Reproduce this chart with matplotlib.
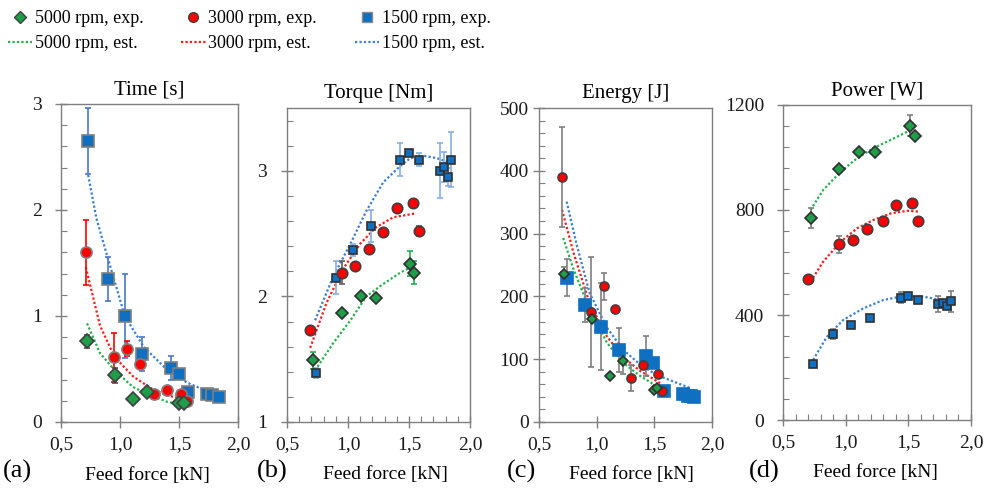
import matplotlib
matplotlib.use("Agg")
import matplotlib.pyplot as plt
from matplotlib.ticker import MultipleLocator

plt.rcParams["font.family"] = "serif"
plt.rcParams["font.serif"] = ["Liberation Serif", "Times New Roman", "DejaVu Serif"]
plt.rcParams["font.size"] = 14

# --- data (feed force in kN) ---
speeds = ["5000", "3000", "1500"]
xtick_vals = [0.5, 1.0, 1.5, 2.0]
xtick_labels = ["0,5", "1,0", "1,5", "2,0"]

# (a) time [s]
time_5000_x = [0.72, 0.96, 1.11, 1.23, 1.50, 1.54]
time_5000_y = [0.76, 0.44, 0.22, 0.28, 0.18, 0.18]
time_5000_err = [0.06, 0.07, 0, 0, 0, 0]
time_3000_x = [0.71, 0.95, 1.06, 1.17, 1.29, 1.40, 1.52, 1.57]
time_3000_y = [1.60, 0.61, 0.69, 0.55, 0.26, 0.30, 0.26, 0.20]
time_3000_err = [0.31, 0.23, 0.07, 0, 0, 0, 0, 0]
time_1500_x = [0.73, 0.90, 1.04, 1.19, 1.43, 1.50, 1.58, 1.74, 1.78, 1.84]
time_1500_y = [2.65, 1.35, 1.00, 0.64, 0.51, 0.45, 0.28, 0.26, 0.25, 0.24]
time_1500_err = [0.31, 0.21, 0.40, 0.16, 0.11, 0, 0, 0, 0, 0]
time_5000_est_x = [0.72, 0.83, 0.96, 1.11, 1.26, 1.40, 1.54]
time_5000_est_y = [0.93, 0.65, 0.48, 0.33, 0.25, 0.19, 0.16]
time_3000_est_x = [0.71, 0.83, 0.95, 1.11, 1.26, 1.40, 1.53]
time_3000_est_y = [1.46, 0.91, 0.62, 0.43, 0.32, 0.25, 0.22]
time_1500_est_x = [0.73, 0.80, 0.89, 1.04, 1.20, 1.40, 1.57, 1.74, 1.84]
time_1500_est_y = [2.33, 1.92, 1.57, 1.00, 0.71, 0.49, 0.37, 0.29, 0.26]

# (b) torque [Nm]
torque_5000_x = [0.71, 0.95, 1.11, 1.23, 1.51, 1.54]
torque_5000_y = [1.49, 1.87, 2.00, 1.99, 2.26, 2.19]
torque_5000_err = [0.07, 0, 0, 0, 0.10, 0.09]
torque_3000_x = [0.69, 0.95, 1.06, 1.17, 1.29, 1.40, 1.53, 1.58]
torque_3000_y = [1.73, 2.19, 2.24, 2.38, 2.51, 2.70, 2.74, 2.52]
torque_3000_err = [0, 0.09, 0, 0, 0, 0.03, 0, 0.04]
torque_1500_x = [0.74, 0.90, 1.04, 1.19, 1.43, 1.50, 1.58, 1.75, 1.79, 1.82, 1.84]
torque_1500_y = [1.39, 2.15, 2.37, 2.56, 3.09, 3.14, 3.09, 3.00, 3.03, 2.95, 3.09]
torque_1500_err = [0.04, 0.13, 0.05, 0.13, 0.13, 0, 0.05, 0.22, 0.12, 0.07, 0.22]
torque_5000_est_x = [0.75, 0.88, 1.02, 1.15, 1.29, 1.43, 1.55]
torque_5000_est_y = [1.44, 1.63, 1.81, 2.00, 2.10, 2.19, 2.25]
torque_3000_est_x = [0.69, 0.82, 0.96, 1.10, 1.23, 1.37, 1.55]
torque_3000_est_y = [1.59, 1.94, 2.22, 2.42, 2.55, 2.63, 2.66]
torque_1500_est_x = [0.73, 0.88, 1.02, 1.15, 1.29, 1.43, 1.51, 1.62, 1.73, 1.82]
torque_1500_est_y = [1.81, 2.16, 2.42, 2.68, 2.91, 3.04, 3.10, 3.12, 3.10, 3.07]

# (c) energy [J]
energy_5000_x = [0.72, 0.96, 1.12, 1.23, 1.50, 1.52]
energy_5000_y = [235, 164, 74, 97, 51, 54]
energy_5000_err = [12, 0, 0, 21, 0, 0]
energy_3000_x = [0.70, 0.95, 1.06, 1.16, 1.30, 1.40, 1.53, 1.57]
energy_3000_y = [390, 175, 216, 180, 70, 91, 77, 49]
energy_3000_err = [80, 88, 21, 0, 20, 0, 0, 0]
energy_1500_x = [0.74, 0.90, 1.04, 1.19, 1.43, 1.49, 1.58, 1.75, 1.79, 1.82, 1.84]
energy_1500_y = [230, 187, 152, 114, 105, 94, 50, 45, 42, 41, 39]
energy_1500_err = [29, 27, 69, 35, 32, 0, 0, 0, 0, 0, 0]
energy_5000_est_x = [0.71, 0.80, 0.94, 1.09, 1.23, 1.38, 1.52]
energy_5000_est_y = [293, 243, 179, 126, 94, 73, 57]
energy_3000_est_x = [0.70, 0.80, 0.94, 1.09, 1.23, 1.38, 1.55]
energy_3000_est_y = [338, 269, 189, 136, 103, 81, 62]
energy_1500_est_x = [0.74, 0.83, 0.94, 1.09, 1.23, 1.38, 1.52, 1.70, 1.81]
energy_1500_est_y = [351, 280, 205, 150, 115, 91, 75, 62, 54]

# (d) power [W]
power_5000_x = [0.72, 0.95, 1.11, 1.23, 1.51, 1.55]
power_5000_y = [768, 955, 1022, 1022, 1121, 1083]
power_5000_err = [38, 0, 0, 0, 41, 0]
power_3000_x = [0.70, 0.95, 1.06, 1.17, 1.30, 1.40, 1.53, 1.58]
power_3000_y = [536, 669, 686, 728, 758, 819, 828, 758]
power_3000_err = [0, 33, 0, 0, 0, 0, 0, 0]
power_1500_x = [0.74, 0.90, 1.04, 1.19, 1.44, 1.50, 1.58, 1.74, 1.78, 1.81, 1.84]
power_1500_y = [213, 328, 362, 390, 466, 472, 457, 441, 444, 434, 453]
power_1500_err = [0, 20, 0, 0, 20, 0, 0, 30, 0, 0, 40]
power_5000_est_x = [0.72, 0.82, 0.96, 1.09, 1.22, 1.36, 1.52]
power_5000_est_y = [800, 876, 946, 997, 1035, 1067, 1105]
power_3000_est_x = [0.72, 0.82, 0.96, 1.09, 1.22, 1.36, 1.49, 1.58]
power_3000_est_y = [527, 603, 679, 730, 762, 787, 797, 794]
power_1500_est_x = [0.74, 0.85, 0.98, 1.14, 1.30, 1.46, 1.62, 1.78]
power_1500_est_y = [229, 317, 381, 425, 457, 472, 470, 455]

# --- styling ---
marker_color = {"5000": "#1f9d48", "3000": "#ff0000", "1500": "#0f6fc0"}
line_color = {"5000": "#22b14c", "3000": "#ff1a1a", "1500": "#3a7fd0"}
marker_shape = {"5000": "D", "3000": "o", "1500": "s"}
GREY = "#7f7f7f"

panels = [
    {
        "title": "Time [s]", "letter": "(a)", "letter_x": 0.003, "label_x": 0.486,
        "rect": [0.0611, 0.1475, 0.1772, 0.6424],
        "ylim": (0, 3), "yticks": [0, 1, 2, 3], "yminor": 0.2, "xminor": False,
        "ypad": 9,
        "data": {"5000": (time_5000_x, time_5000_y, time_5000_err, time_5000_est_x, time_5000_est_y),
                 "3000": (time_3000_x, time_3000_y, time_3000_err, time_3000_est_x, time_3000_est_y),
                 "1500": (time_1500_x, time_1500_y, time_1500_err, time_1500_est_x, time_1500_est_y)},
        "ms": {"5000": 7, "3000": 8, "1500": 8},
        "mec": {"5000": "#404040", "3000": GREY, "1500": GREY},
        "ecolor": {"5000": "#505050", "3000": "#ff0000", "1500": "#4a78c8"},
    },
    {
        "title": "Torque [Nm]", "letter": "(b)", "letter_x": 0.257, "label_x": 0.536,
        "rect": [0.2873, 0.1475, 0.1832, 0.6343],
        "ylim": (1, 3.5), "yticks": [1, 2, 3], "yminor": 0.2, "xminor": True,
        "ypad": 10,
        "data": {"5000": (torque_5000_x, torque_5000_y, torque_5000_err, torque_5000_est_x, torque_5000_est_y),
                 "3000": (torque_3000_x, torque_3000_y, torque_3000_err, torque_3000_est_x, torque_3000_est_y),
                 "1500": (torque_1500_x, torque_1500_y, torque_1500_err, torque_1500_est_x, torque_1500_est_y)},
        "ms": {"5000": 6, "3000": 7.5, "1500": 5.5},
        "mec": {"5000": "#303030", "3000": "#404040", "1500": "#303030"},
        "ecolor": {"5000": "#22b14c", "3000": "#606060", "1500": "#86aee0"},
    },
    {
        "title": "Energy [J]", "letter": "(c)", "letter_x": 0.507, "label_x": 0.532,
        "rect": [0.5395, 0.1475, 0.1732, 0.6343],
        "ylim": (0, 500), "yticks": [0, 100, 200, 300, 400, 500], "yminor": 20, "xminor": False,
        "ypad": 3,
        "data": {"5000": (energy_5000_x, energy_5000_y, energy_5000_err, energy_5000_est_x, energy_5000_est_y),
                 "3000": (energy_3000_x, energy_3000_y, energy_3000_err, energy_3000_est_x, energy_3000_est_y),
                 "1500": (energy_1500_x, energy_1500_y, energy_1500_err, energy_1500_est_x, energy_1500_est_y)},
        "ms": {"5000": 5.5, "3000": 6.5, "1500": 8},
        "mec": {"5000": "#303030", "3000": "#404040", "1500": "#0f6fc0"},
        "ecolor": {"5000": GREY, "3000": GREY, "1500": GREY},
    },
    {
        "title": "Power [W]", "letter": "(d)", "letter_x": 0.750, "label_x": 0.49,
        "rect": [0.7838, 0.1515, 0.1882, 0.6364],
        "ylim": (0, 1200), "yticks": [0, 400, 800, 1200], "yminor": 80, "xminor": True,
        "ypad": 9,
        "data": {"5000": (power_5000_x, power_5000_y, power_5000_err, power_5000_est_x, power_5000_est_y),
                 "3000": (power_3000_x, power_3000_y, power_3000_err, power_3000_est_x, power_3000_est_y),
                 "1500": (power_1500_x, power_1500_y, power_1500_err, power_1500_est_x, power_1500_est_y)},
        "ms": {"5000": 6, "3000": 7.5, "1500": 6},
        "mec": {"5000": "#303030", "3000": "#404040", "1500": "#303030"},
        "ecolor": {"5000": GREY, "3000": GREY, "1500": GREY},
    },
]

fig = plt.figure(figsize=(9.99, 4.95), dpi=100)

handles = []
for i, p in enumerate(panels):
    ax = fig.add_axes(p["rect"])
    for sp in ["1500", "3000", "5000"]:
        x, y, err, ex, ey = p["data"][sp]
        ax.plot(ex, ey, linestyle=(0, (1, 1)), lw=1.6, color=line_color[sp], zorder=2)
        ax.errorbar(x, y, yerr=err, fmt=marker_shape[sp], ms=p["ms"][sp],
                    mfc=marker_color[sp], mec=p["mec"][sp], mew=1.2,
                    ecolor=p["ecolor"][sp], elinewidth=1.2, capsize=2.5,
                    capthick=1.0, zorder=3)
    ax.set_xlim(0.5, 2.0)
    ax.set_ylim(*p["ylim"])
    ax.set_xticks(xtick_vals)
    ax.set_xticklabels(xtick_labels)
    ax.set_yticks(p["yticks"])
    ax.yaxis.set_minor_locator(MultipleLocator(p["yminor"]))
    if p["xminor"]:
        ax.xaxis.set_minor_locator(MultipleLocator(0.1))
    for sp_name in ax.spines.values():
        sp_name.set_color(GREY)
        sp_name.set_linewidth(1.0)
    ax.tick_params(which="major", direction="inout", length=9, width=1.0, color=GREY,
                   labelsize=14, labelcolor="#1a1a1a")
    ax.tick_params(which="minor", direction="in", length=4, width=0.8, color=GREY)
    ax.tick_params(axis="x", which="major", pad=6)
    ax.tick_params(axis="y", which="major", pad=p["ypad"])
    ax.set_title(p["title"], fontsize=15, pad=7)
    ax.set_xlabel("Feed force [kN]", fontsize=14)
    ax.xaxis.set_label_coords(p["label_x"], -0.14)
    fig.text(p["letter_x"], 0.048, p["letter"], fontsize=19, ha="left", va="center")

# legend built from proxy artists
for sp in speeds:
    h_exp, = plt.plot([], [], linestyle="none", marker=marker_shape[sp],
                      ms=7 if sp != "5000" else 6, mfc=marker_color[sp],
                      mec="#404040" if sp != "1500" else "#8a8a8a", mew=1.0)
    h_est, = plt.plot([], [], linestyle=(0, (1, 1)), lw=1.6, color=line_color[sp])
    handles += [(h_exp, f"{sp} rpm, exp."), (h_est, f"{sp} rpm, est.")]

fig.legend([h for h, _ in handles], [l for _, l in handles], ncol=3,
           loc="upper left", bbox_to_anchor=(-0.005, 1.005), frameon=False,
           fontsize=13, handlelength=1.35, handletextpad=0.15,
           columnspacing=2.1, labelspacing=0.45, borderpad=0.2)

fig.savefig("out.png", dpi=100)
